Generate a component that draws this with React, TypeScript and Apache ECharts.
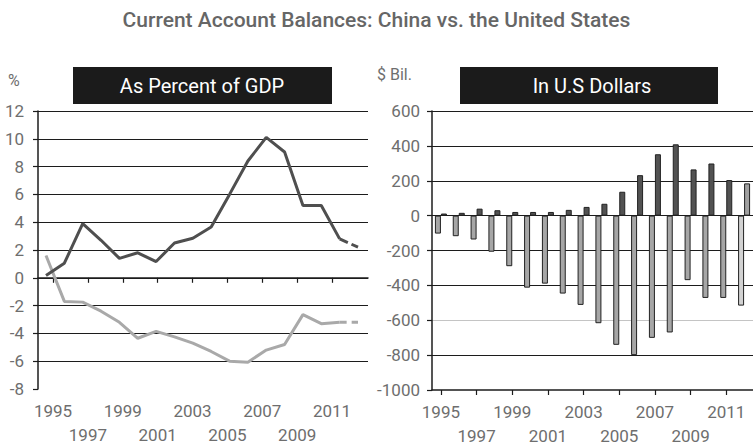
import React, { useEffect, useRef } from "react";
import * as echarts from "echarts";

const years = [1995, 1996, 1997, 1998, 1999, 2000, 2001, 2002, 2003, 2004, 2005, 2006, 2007, 2008, 2009, 2010, 2011, 2012];
const tickYears = [1995, 1997, 1999, 2001, 2003, 2005, 2007, 2009, 2011];
const upperRowYears = [1995, 1999, 2003, 2007, 2011];
const lowerRowYears = [1997, 2001, 2005, 2009];
const chinaPct = [0.17, 1.05, 3.9, 2.7, 1.4, 1.8, 1.17, 2.5, 2.85, 3.65, 6.0, 8.4, 10.1, 9.05, 5.2, 5.2, 2.8, 2.2];
const usPct = [1.6, -1.7, -1.75, -2.4, -3.2, -4.35, -3.85, -4.25, -4.7, -5.3, -6.0, -6.07, -5.2, -4.8, -2.65, -3.3, -3.2, -3.2];
const chinaUsd = [12, 16, 40, 31, 21, 21, 21, 33, 50, 68, 137, 232, 352, 409, 265, 299, 204, 185];
const usUsd = [-103, -118, -137, -207, -290, -413, -390, -447, -512, -617, -741, -800, -701, -670, -370, -472, -472, -516];
const pctTicks = { min: -8, max: 12, interval: 2 };
const usdTicks = { min: -1000, max: 600, interval: 200 };

const FONT = "Roboto";
const GREY = "#6e6e6e";
const INK = "#1c1c1c";

export default function App() {
  const ref = useRef<HTMLDivElement>(null);
  useEffect(() => {
    if (!ref.current) return;
    const chart = echarts.init(ref.current, null, { renderer: "svg" });
    const n = years.length;
    const solid = (arr: number[]) => years.slice(0, n - 1).map((y, i) => [y, arr[i]]);
    const dashed = (arr: number[]) => [[years[n - 2], arr[n - 2]], [years[n - 1], arr[n - 1]]];
    const labelStyle = { color: GREY, fontFamily: FONT, fontSize: 17 };
    const yLabel = { color: GREY, fontFamily: FONT, fontSize: 17 };
    const ROW1 = 13;
    const ROW2 = 37;
    const lineAxis = { show: true, lineStyle: { color: INK, width: 1.5 } };
    const tick = { length: 5, lineStyle: { color: INK, width: 1.2 } };

    // left chart tick/label axis range (years)
    const L = { min: 1994.14, max: 2013.06 };
    // right chart: category centres, 1995 at half a band
    const R = { min: 1994.5, max: 2012.5 };

    const labelAxis = (
      gridIndex: number,
      range: { min: number; max: number },
      labels: number[],
      margin: number,
      ticks: number[] | null
    ) => ({
      gridIndex,
      type: "value",
      position: "bottom",
      ...range,
      axisLine: ticks ? lineAxis : { show: false },
      axisTick: ticks ? { show: true, customValues: ticks, ...tick } : { show: false },
      axisLabel: {
        customValues: labels,
        showMinLabel: true,
        showMaxLabel: true,
        margin,
        ...labelStyle,
        formatter: (v: number) => String(v),
      },
      splitLine: { show: false },
    });

    const option: any = {
      animation: false,
      backgroundColor: "#fff",
      title: {
        text: "Current Account Balances: China vs. the United States",
        left: "center",
        top: 4,
        textStyle: { color: "#666", fontFamily: FONT, fontSize: 21, fontWeight: 500 },
      },
      graphic: [
        { type: "text", left: 8, top: 72, style: { text: "%", fill: GREY, font: `16px ${FONT}` } },
        { type: "rect", shape: { x: 73, y: 67, width: 259, height: 37 }, style: { fill: "#1b1b1b" } },
        { type: "text", x: 202, y: 86, style: { text: "As Percent of GDP", fill: "#fff", font: `20px ${FONT}`, align: "center", verticalAlign: "middle" } },
        { type: "text", left: 377, top: 66, style: { text: "$ Bil.", fill: GREY, font: `16px ${FONT}` } },
        { type: "rect", shape: { x: 460, y: 67, width: 258, height: 37 }, style: { fill: "#1b1b1b" } },
        { type: "text", x: 592, y: 86, style: { text: "In U.S Dollars", fill: "#fff", font: `20px ${FONT}`, align: "center", verticalAlign: "middle" } },
      ],
      grid: [
        { left: 38, top: 111, width: 330, height: 278 },
        { left: 432, top: 111, width: 321, height: 279 },
      ],
      xAxis: [
        labelAxis(0, L, upperRowYears, ROW1, tickYears),
        { gridIndex: 0, type: "value", min: 1994.564, max: 2012.545, show: false },
        {
          gridIndex: 1,
          type: "category",
          position: "bottom",
          data: years,
          boundaryGap: true,
          axisLine: { show: false },
          axisTick: { show: false },
          axisLabel: { show: false },
          splitLine: { show: false },
        },
        labelAxis(0, L, lowerRowYears, ROW2, null),
        labelAxis(1, R, upperRowYears, ROW1, tickYears),
        labelAxis(1, R, lowerRowYears, ROW2, null),
      ],
      yAxis: [
        {
          gridIndex: 0,
          type: "value",
          ...pctTicks,
          axisLine: lineAxis,
          axisTick: { show: true, ...tick },
          axisLabel: { margin: 14, ...yLabel, formatter: (v: number) => String(v) },
          splitLine: { show: true, showMinLine: false, lineStyle: { color: INK, width: 1.2 } },
        },
        {
          gridIndex: 1,
          type: "value",
          ...usdTicks,
          axisLine: lineAxis,
          axisTick: { show: true, ...tick },
          axisLabel: { margin: 12, ...yLabel, formatter: (v: number) => String(v) },
          splitLine: {
            show: true,
            showMinLine: false,
            lineStyle: { color: [INK, "#c4c4c4", INK, INK, INK, INK, INK, INK], width: 1.2 },
          },
        },
      ],
      series: [
        {
          name: "US % GDP",
          type: "line",
          xAxisIndex: 1,
          yAxisIndex: 0,
          data: solid(usPct),
          symbol: "none",
          lineStyle: { color: "#a9a9a9", width: 3 },
          z: 3,
        },
        {
          name: "US % GDP forecast",
          type: "line",
          xAxisIndex: 1,
          yAxisIndex: 0,
          data: dashed(usPct),
          symbol: "none",
          lineStyle: { color: "#a9a9a9", width: 3, type: [7, 5] },
          z: 3,
        },
        {
          name: "China % GDP",
          type: "line",
          xAxisIndex: 1,
          yAxisIndex: 0,
          data: solid(chinaPct),
          symbol: "none",
          lineStyle: { color: "#4f4f4f", width: 3 },
          z: 4,
        },
        {
          name: "China % GDP forecast",
          type: "line",
          xAxisIndex: 1,
          yAxisIndex: 0,
          data: dashed(chinaPct),
          symbol: "none",
          lineStyle: { color: "#4f4f4f", width: 3, type: [9, 4] },
          z: 4,
        },
        {
          name: "US $",
          type: "bar",
          xAxisIndex: 2,
          yAxisIndex: 1,
          barWidth: 6,
          barGap: "0%",
          data: usUsd.map((v, i) =>
            i === n - 1 ? { value: v, itemStyle: { color: "#d2d2d2" } } : v
          ),
          itemStyle: { color: "#a6a6a6", borderColor: "#222", borderWidth: 1 },
          z: 3,
        },
        {
          name: "China $",
          type: "bar",
          xAxisIndex: 2,
          yAxisIndex: 1,
          barWidth: 6,
          data: chinaUsd.map((v, i) =>
            i === n - 1 ? { value: v, itemStyle: { color: "#a0a0a0" } } : v
          ),
          itemStyle: { color: "#525252", borderColor: "#222", borderWidth: 1 },
          z: 3,
        },
      ],
    };
    chart.setOption(option);
    return () => chart.dispose();
  }, []);
  return <div ref={ref} style={{ width: 753, height: 448, position: "absolute", left: 0, top: 0 }} />;
}
